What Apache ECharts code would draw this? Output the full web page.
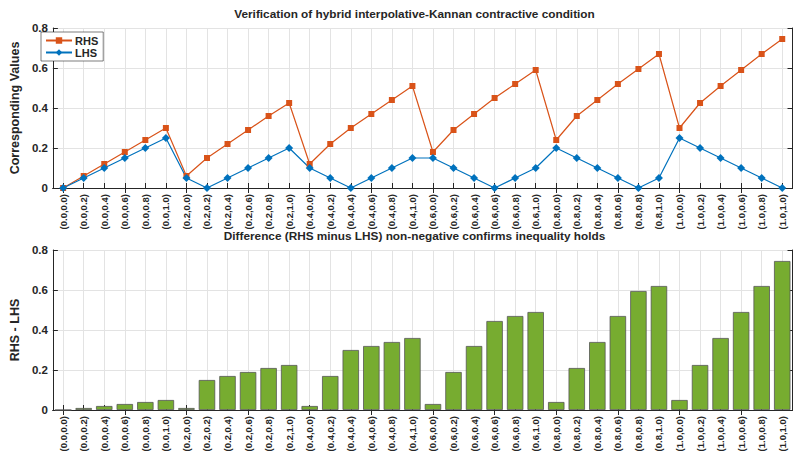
<!DOCTYPE html>
<html><head><meta charset="utf-8">
<script src="https://cdn.jsdelivr.net/npm/echarts@6/dist/echarts.min.js"></script>
<style>html,body{margin:0;padding:0;background:#fff}#c{width:801px;height:464px}</style>
</head><body><div id="c"></div>
<script>
const categories = [
  '(0.0,0.0)','(0.0,0.2)','(0.0,0.4)','(0.0,0.6)','(0.0,0.8)','(0.0,1.0)',
  '(0.2,0.0)','(0.2,0.2)','(0.2,0.4)','(0.2,0.6)','(0.2,0.8)','(0.2,1.0)',
  '(0.4,0.0)','(0.4,0.2)','(0.4,0.4)','(0.4,0.6)','(0.4,0.8)','(0.4,1.0)',
  '(0.6,0.0)','(0.6,0.2)','(0.6,0.4)','(0.6,0.6)','(0.6,0.8)','(0.6,1.0)',
  '(0.8,0.0)','(0.8,0.2)','(0.8,0.4)','(0.8,0.6)','(0.8,0.8)','(0.8,1.0)',
  '(1.0,0.0)','(1.0,0.2)','(1.0,0.4)','(1.0,0.6)','(1.0,0.8)','(1.0,1.0)'
];
const rhs = [
  0, 0.06, 0.12, 0.18, 0.24, 0.30,
  0.06, 0.15, 0.22, 0.29, 0.36, 0.425,
  0.12, 0.22, 0.30, 0.37, 0.44, 0.51,
  0.18, 0.29, 0.37, 0.45, 0.52, 0.59,
  0.24, 0.36, 0.44, 0.52, 0.595, 0.67,
  0.30, 0.425, 0.51, 0.59, 0.67, 0.745
];
const lhs = [
  0, 0.05, 0.10, 0.15, 0.20, 0.25,
  0.05, 0, 0.05, 0.10, 0.15, 0.20,
  0.10, 0.05, 0, 0.05, 0.10, 0.15,
  0.15, 0.10, 0.05, 0, 0.05, 0.10,
  0.20, 0.15, 0.10, 0.05, 0, 0.05,
  0.25, 0.20, 0.15, 0.10, 0.05, 0
];
const diff = [
  0, 0.01, 0.02, 0.03, 0.04, 0.05,
  0.01, 0.15, 0.17, 0.19, 0.21, 0.225,
  0.02, 0.17, 0.30, 0.32, 0.34, 0.36,
  0.03, 0.19, 0.32, 0.445, 0.47, 0.49,
  0.04, 0.21, 0.34, 0.47, 0.595, 0.62,
  0.05, 0.225, 0.36, 0.49, 0.62, 0.745
];
const yMin = 0, yMax = 0.8, yStep = 0.2;

const FONT = '"Liberation Sans", Arial, Helvetica, sans-serif';
const AX = '#262626';
const GRIDC = '#e3e3e3';

function xAx(gridIndex, pos, showLabels) {
  return {
    type: 'category', gridIndex, position: pos, data: categories, boundaryGap: true,
    axisLine: { show: true, lineStyle: { color: AX, width: 1 } },
    axisTick: { show: true, inside: true, alignWithLabel: true, length: 5, lineStyle: { color: AX } },
    axisLabel: showLabels ? { show: true, rotate: 90, interval: 0, fontSize: 9.5, fontWeight: 'bold', color: AX, fontFamily: FONT, margin: 6 } : { show: false },
    splitLine: showLabels ? { show: true, alignWithLabel: true, lineStyle: { color: GRIDC, width: 1 } } : { show: false }
  };
}
function yAx(gridIndex, pos, name) {
  const main = pos === 'left';
  return {
    type: 'value', gridIndex, position: pos, min: yMin, max: yMax, interval: yStep,
    name: main ? name : '', nameLocation: 'middle', nameGap: 23,
    nameTextStyle: { fontSize: 12.5, fontWeight: 'bold', color: AX, fontFamily: FONT },
    axisLine: { show: true, lineStyle: { color: AX, width: 1 } },
    axisTick: { show: true, inside: true, length: 5, lineStyle: { color: AX } },
    axisLabel: main ? { show: true, fontSize: 11.5, fontWeight: 'bold', color: AX, fontFamily: FONT, margin: 5 } : { show: false },
    splitLine: main ? { show: true, lineStyle: { color: GRIDC, width: 1 } } : { show: false }
  };
}

const chart = echarts.init(document.getElementById('c'), null, { renderer: 'svg' });
chart.setOption({
  animation: false,
  backgroundColor: '#fff',
  textStyle: { fontFamily: FONT },
  title: [
    { text: 'Verification of hybrid interpolative-Kannan contractive condition', left: 414.5, top: 8, textAlign: 'center', padding: 0,
      textStyle: { fontSize: 11.8, fontWeight: 'bold', color: AX, fontFamily: FONT } },
    { text: 'Difference (RHS minus LHS) non-negative confirms inequality holds', left: 414.5, top: 230, textAlign: 'center', padding: 0,
      textStyle: { fontSize: 11.8, fontWeight: 'bold', color: AX, fontFamily: FONT } }
  ],
  legend: {
    data: ['RHS', 'LHS'], orient: 'vertical', left: 41, top: 32,
    backgroundColor: '#fff', borderColor: AX, borderWidth: 0.6, borderRadius: 0,
    padding: [3, 5, 3, 4], itemGap: 1, itemWidth: 26, itemHeight: 8,
    textStyle: { fontSize: 11, fontWeight: 'bold', color: AX, fontFamily: FONT, padding: [0, 0, 0, -2] }
  },
  grid: [
    { left: 36.5, right: 8.5, top: 28, height: 160, containLabel: false },
    { left: 36.5, right: 8.5, top: 250, height: 160, containLabel: false }
  ],
  xAxis: [ xAx(0, 'bottom', true), xAx(0, 'top', false), xAx(1, 'bottom', true), xAx(1, 'top', false) ],
  yAxis: [ yAx(0, 'left', 'Corresponding Values'), yAx(0, 'right', ''), yAx(1, 'left', 'RHS - LHS'), yAx(1, 'right', '') ],
  series: [
    { name: 'RHS', type: 'line', xAxisIndex: 0, yAxisIndex: 0, data: rhs,
      symbol: 'rect', symbolSize: 6, color: '#D95319',
      lineStyle: { width: 1.2, color: '#D95319' }, itemStyle: { color: '#D95319' } },
    { name: 'LHS', type: 'line', xAxisIndex: 0, yAxisIndex: 0, data: lhs,
      symbol: 'diamond', symbolSize: 8, color: '#0072BD',
      lineStyle: { width: 1.2, color: '#0072BD' }, itemStyle: { color: '#0072BD' } },
    { name: 'Diff', type: 'bar', xAxisIndex: 2, yAxisIndex: 2, data: diff, barWidth: '80%',
      itemStyle: { color: '#77AC30', borderColor: '#555', borderWidth: 0.8 } }
  ]
});
</script></body></html>
